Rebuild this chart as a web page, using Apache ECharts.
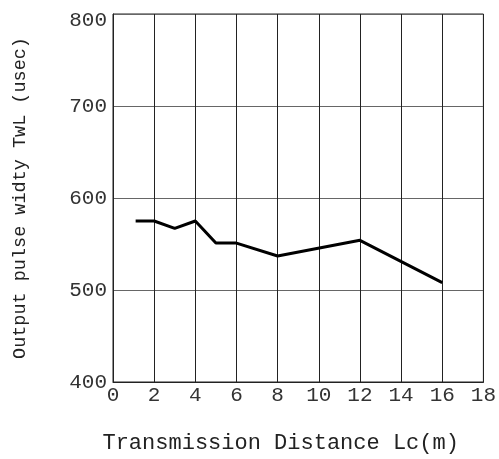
<!DOCTYPE html>
<html><head><meta charset="utf-8">
<script src="https://cdn.jsdelivr.net/npm/echarts@6/dist/echarts.min.js"></script>
<style>html,body{margin:0;padding:0;background:#fff}#c{width:499px;height:459px}</style>
</head><body><div id="c"></div>
<script>
var distances = [1.1, 2, 3, 4, 5, 6, 8, 12, 16];
var pulseWidth = [575, 575, 567, 575, 551, 551, 537, 554, 508];
var xTicks = [0, 2, 4, 6, 8, 10, 12, 14, 16, 18];
var yTicks = [400, 500, 600, 700, 800];
var xName = 'Transmission Distance Lc(m)';
var yName = 'Output pulse widty TwL (usec)';

var chart = echarts.init(document.getElementById('c'), null, {renderer: 'canvas'});
var lineColor = '#222';
var tickFont = {fontFamily: 'Liberation Mono', fontSize: 21, color: '#333'};
chart.setOption({
  animation: false,
  backgroundColor: '#fff',
  grid: {left: 113, right: 13, top: 14, bottom: 76, show: true, borderColor: '#222', borderWidth: 1},
  xAxis: {
    type: 'value', min: xTicks[0], max: xTicks[xTicks.length-1], interval: 2,
    name: xName, nameLocation: 'middle', nameGap: 50,
    nameTextStyle: {fontFamily: 'Liberation Mono', fontSize: 22, color: '#222', padding: [0, 35, 0, 0]},
    axisLine: {show: true, lineStyle: {color: lineColor, width: 1}},
    axisTick: {show: false},
    axisLabel: Object.assign({margin: 3}, tickFont),
    splitLine: {show: true, lineStyle: {color: lineColor, width: 1}}
  },
  yAxis: {
    type: 'value', min: yTicks[0], max: yTicks[yTicks.length-1], interval: 100,
    name: yName, nameLocation: 'middle', nameGap: 83,
    nameTextStyle: {fontFamily: 'Liberation Mono', fontSize: 18.5, color: '#222'},
    axisLine: {show: true, lineStyle: {color: lineColor, width: 1}},
    axisTick: {show: false},
    axisLabel: Object.assign({
      margin: 6,
      formatter: function (v) { return v === yTicks[yTicks.length-1] ? '{top|' + v + '}' : '' + v; },
      rich: {top: Object.assign({padding: [12, 0, 0, 0]}, tickFont)}
    }, tickFont),
    splitLine: {show: true, lineStyle: {color: '#666', width: 1}}
  },
  series: [{
    type: 'line',
    data: distances.map(function(d, i){ return [d, pulseWidth[i]]; }),
    showSymbol: false,
    lineStyle: {color: '#000', width: 3},
    itemStyle: {color: '#000'}
  }]
});
</script></body></html>
